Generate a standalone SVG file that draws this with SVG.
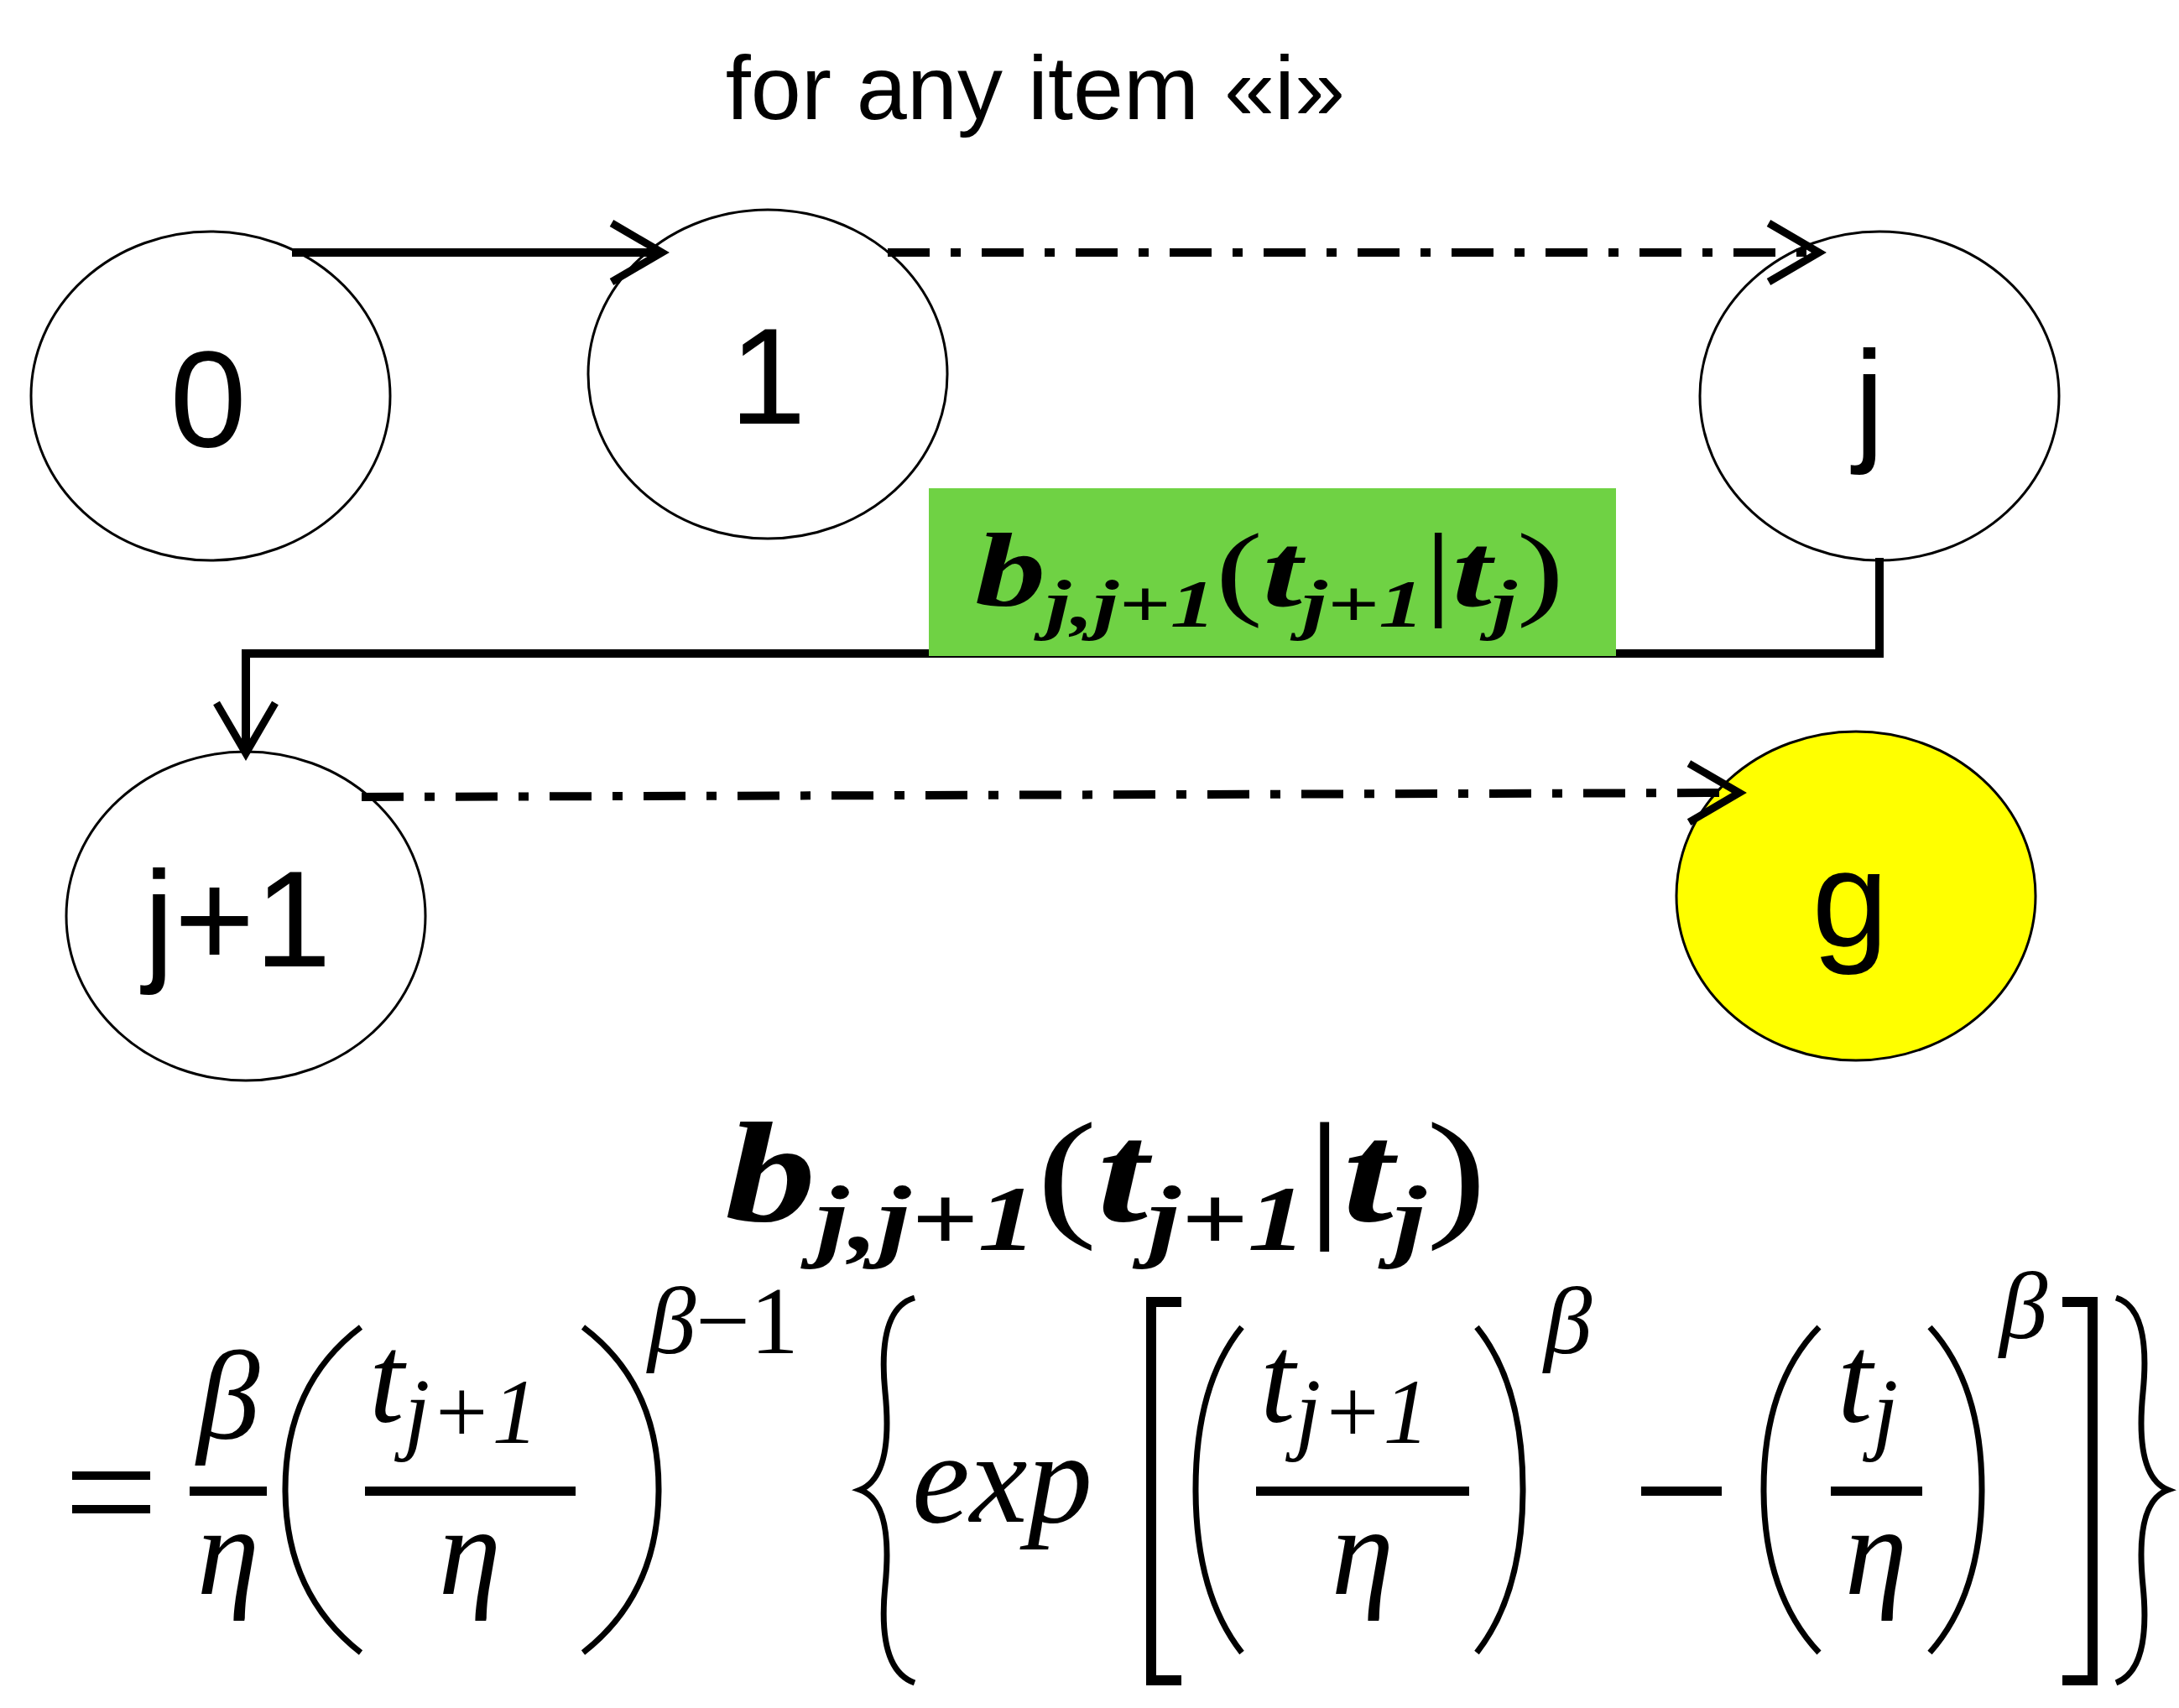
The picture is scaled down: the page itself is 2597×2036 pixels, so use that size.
<svg xmlns="http://www.w3.org/2000/svg" width="2597" height="2036" viewBox="0 0 2597 2036">
<defs>
<style>
.n{fill:#fff;stroke:#000;stroke-width:3}
.lab{font-family:"Liberation Sans",Arial,sans-serif;font-size:164px;text-anchor:middle}
.m{font-family:"Liberation Serif","Times New Roman",serif;font-style:italic}
.mb{font-family:"Liberation Serif","Times New Roman",serif;font-style:italic;font-weight:bold}
.c{fill:none;stroke:#000;stroke-width:10}
.d{fill:none;stroke:#000;stroke-width:10;stroke-dasharray:50 25 12 25}
.p{fill:none;stroke:#000;stroke-width:7}
</style>
<marker id="a" viewBox="0 0 20 20" refX="17" refY="10" markerWidth="20" markerHeight="20" markerUnits="userSpaceOnUse" orient="auto" style="overflow:visible">
<path d="M-40,-25 L20,10 L-40,45" fill="none" stroke="#000" stroke-width="9"/>
</marker>
</defs>
<rect width="2597" height="2036" fill="#fff"/>
<text x="1234" y="142" font-family="'Liberation Sans',Arial,sans-serif" font-size="108" text-anchor="middle">for any item «i»</text>
<g id="n0"><ellipse class="n" cx="251" cy="472" rx="214" ry="196"/><text class="lab" x="248" y="532">0</text></g>
<g id="n1"><ellipse class="n" cx="915" cy="446" rx="214" ry="196"/><text class="lab" x="915" y="505">1</text></g>
<g id="nj"><ellipse class="n" cx="2240" cy="472" rx="214" ry="196"/><text class="lab" x="2228" y="532">j</text></g>
<g id="nj1"><ellipse class="n" cx="293" cy="1092" rx="214" ry="196"/><text class="lab" x="283" y="1152">j+1</text></g>
<g id="ng"><ellipse cx="2212" cy="1068" rx="214" ry="196" fill="#ffff00" stroke="#000" stroke-width="3"/><text class="lab" x="2205" y="1128">g</text></g>
<g id="connectors">
<path class="c" d="M348,301 H786" marker-end="url(#a)"/>
<path class="d" d="M1058,301 H2165" marker-end="url(#a)"/>
<path class="c" d="M2240,665 V779 H293 V895" marker-end="url(#a)"/>
<path class="d" d="M431,950 L2070,945" marker-end="url(#a)"/>
</g>
<g id="label">
<rect x="1107" y="582" width="819" height="200" fill="#6fd244"/>
<text class="mb" x="1162" y="722" font-size="125" textLength="702" lengthAdjust="spacingAndGlyphs">b<tspan font-size="80" dy="25">j,j+1</tspan><tspan dy="-25" font-style="normal" font-weight="normal">(</tspan>t<tspan font-size="80" dy="25">j+1</tspan><tspan dy="-25" font-style="normal" font-weight="normal">|</tspan>t<tspan font-size="80" dy="25">j</tspan><tspan dy="-25" font-style="normal" font-weight="normal">)</tspan></text>
</g>
<g id="formula">
<text class="mb" x="864" y="1455" font-size="170" textLength="908" lengthAdjust="spacingAndGlyphs">b<tspan font-size="110" dy="35">j,j+1</tspan><tspan dy="-35" font-style="normal" font-weight="normal">(</tspan>t<tspan font-size="110" dy="35">j+1</tspan><tspan dy="-35" font-style="normal" font-weight="normal">|</tspan>t<tspan font-size="110" dy="35">j</tspan><tspan dy="-35" font-style="normal" font-weight="normal">)</tspan></text>
<text x="76" y="1845" font-family="'Liberation Serif',serif" font-size="200">=</text>
<text class="m" x="272" y="1715" font-size="150" text-anchor="middle">β</text>
<rect x="226" y="1772" width="92" height="11"/>
<text class="m" x="272" y="1900" font-size="150" text-anchor="middle">η</text>
<path class="p" d="M430,1582 Q340,1650 340,1775 Q340,1900 430,1970"/>
<text class="m" x="440" y="1695" font-size="150">t<tspan font-size="110" dy="25">j+1</tspan></text>
<rect x="435" y="1772" width="251" height="11"/>
<text class="m" x="560" y="1900" font-size="150" text-anchor="middle">η</text>
<path class="p" d="M695,1582 Q785,1650 785,1775 Q785,1900 695,1970"/>
<text class="m" x="772" y="1613" font-size="115">β<tspan font-style="normal">−1</tspan></text>
<path class="p" d="M1090,1547 Q1045,1560 1055,1660 Q1065,1760 1025,1776 Q1065,1790 1055,1890 Q1045,1990 1090,2006"/>
<text class="m" x="1087" y="1814" font-size="155">exp</text>
<path fill="none" stroke="#000" stroke-width="12" d="M1408,1552 H1372 V2003 H1408"/>
<path class="p" d="M1480,1582 Q1425,1650 1425,1775 Q1425,1900 1480,1970"/>
<text class="m" x="1502" y="1695" font-size="150">t<tspan font-size="110" dy="25">j+1</tspan></text>
<rect x="1497" y="1772" width="254" height="11"/>
<text class="m" x="1624" y="1900" font-size="150" text-anchor="middle">η</text>
<path class="p" d="M1760,1582 Q1815,1650 1815,1775 Q1815,1900 1760,1970"/>
<text class="m" x="1840" y="1613" font-size="115">β</text>
<rect x="1956" y="1772" width="96" height="11"/>
<path class="p" d="M2168,1582 Q2102,1650 2102,1775 Q2102,1900 2168,1970"/>
<text class="m" x="2190" y="1695" font-size="150">t<tspan font-size="110" dy="25">j</tspan></text>
<rect x="2182" y="1772" width="109" height="11"/>
<text class="m" x="2236" y="1900" font-size="150" text-anchor="middle">η</text>
<path class="p" d="M2300,1582 Q2362,1650 2362,1775 Q2362,1900 2300,1970"/>
<text class="m" x="2383" y="1595" font-size="115">β</text>
<path fill="none" stroke="#000" stroke-width="12" d="M2458,1552 H2494 V2003 H2458"/>
<path class="p" d="M2522,1547 Q2564,1560 2554,1660 Q2544,1760 2584,1776 Q2544,1790 2554,1890 Q2564,1990 2522,2006"/>
</g>
</svg>
